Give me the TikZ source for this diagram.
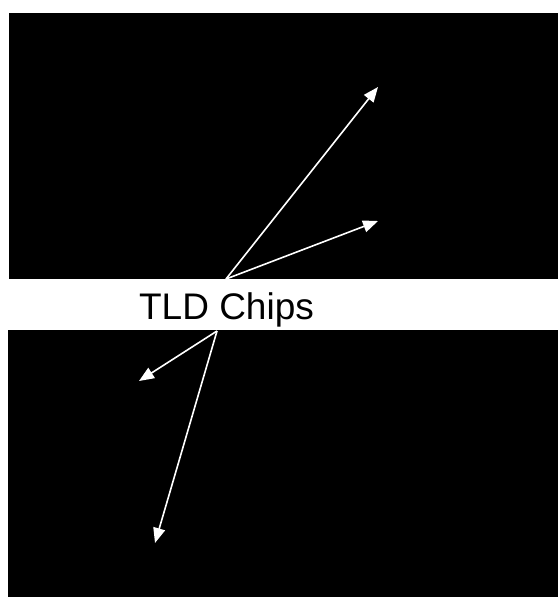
\documentclass[tikz,border=0pt]{standalone}
\usepackage{fontspec}
\setmainfont{Liberation Sans}
\usetikzlibrary{arrows.meta}
\begin{document}
\begin{tikzpicture}[x=1pt, y=-1pt, every node/.style={font=\fontsize{37}{40}\selectfont},
  ray/.style={white, line width=1.6pt, -{Triangle[length=15pt, width=12pt]}}]
  \useasboundingbox (0,0) rectangle (558,597);
  \fill[white] (0,0) rectangle (558,597);
  \fill[black] (9,13) rectangle (558,279);
  \fill[black] (8,330) rectangle (558,597);
  \node[anchor=base, inner sep=0pt] (label) at (226.5,319) {TLD Chips};
  \coordinate (up) at (226,279);
  \coordinate (down) at (217,331);
  \coordinate (far) at (378,87);
  \coordinate (near) at (378,221);
  \coordinate (left) at (139,381);
  \coordinate (low) at (155,543);
  \draw[ray] (up) -- (far);
  \draw[ray] (up) -- (near);
  \draw[ray] (down) -- (left);
  \draw[ray] (down) -- (low);
\end{tikzpicture}
\end{document}
